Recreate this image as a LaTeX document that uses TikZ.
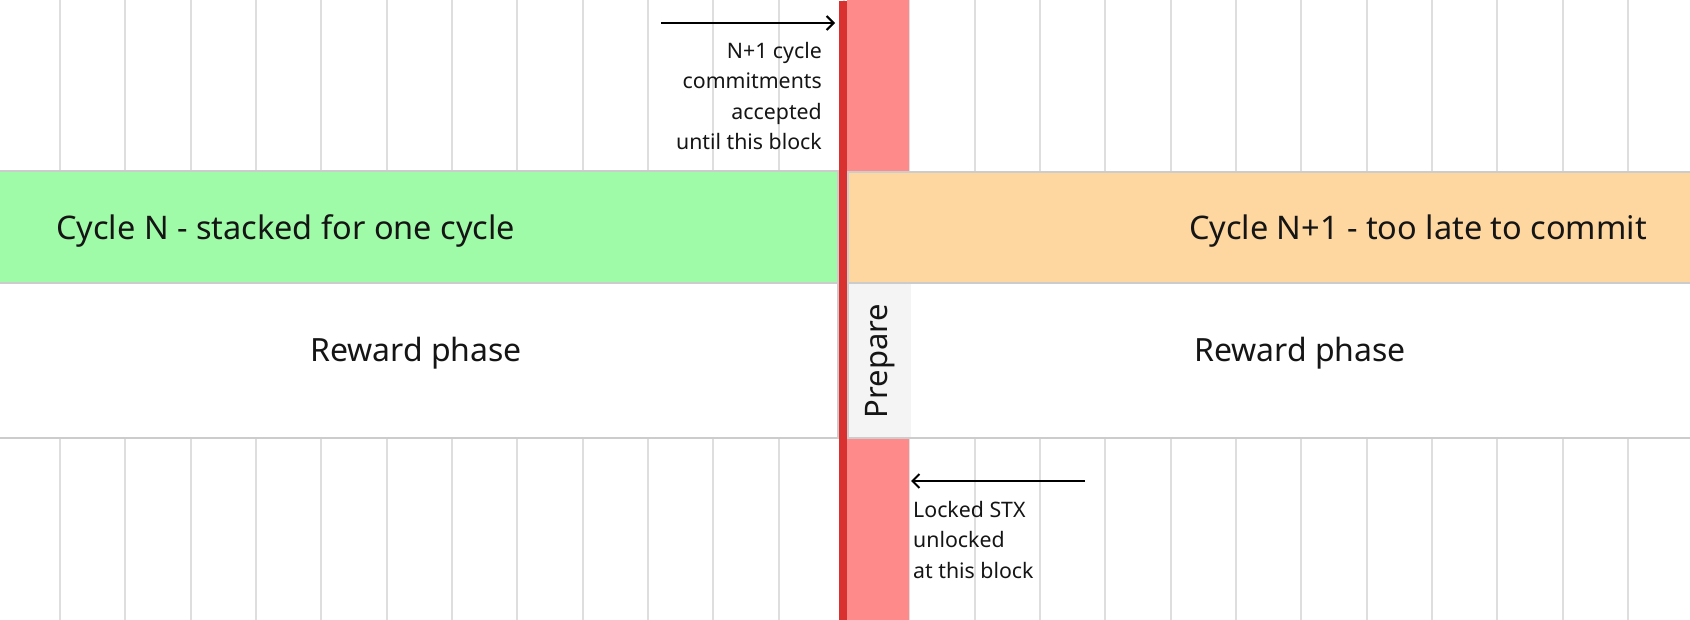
\documentclass[tikz,border=0pt]{standalone}
\usepackage{fontspec}
\setmainfont{Noto Sans}
\usetikzlibrary{arrows.meta}
\definecolor{gridc}{HTML}{DEDEDE}
\definecolor{bordc}{HTML}{CCCCCC}
\definecolor{greenc}{HTML}{A0FBA8}
\definecolor{orangec}{HTML}{FDD6A0}
\definecolor{pinkc}{HTML}{FF8A8A}
\definecolor{redc}{HTML}{D93030}
\definecolor{prepc}{HTML}{F4F4F4}
\definecolor{txtc}{HTML}{151515}
\tikzset{
  gridline/.style={draw=gridc, line width=2pt},
  band/.style={draw=bordc, line width=2pt, anchor=north west, inner sep=0pt, outer sep=0pt},
  bigtxt/.style={font=\fontsize{32.5}{38}\selectfont, text=txtc, inner sep=0pt},
  midtxt/.style={font=\fontsize{32}{38}\selectfont, text=txtc, inner sep=0pt},
  preptxt/.style={font=\fontsize{31}{36}\selectfont, text=txtc, inner sep=0pt},
  smalltxt/.style={font=\fontsize{21.3}{30.5}\selectfont, text=txtc, inner sep=0pt},
  annot/.style={draw=black, line width=2pt, -{Straight Barb[length=7pt,width=14pt,line width=2pt]}},
}
\begin{document}
\begin{tikzpicture}[x=1pt,y=-1pt]
\useasboundingbox (0,0) rectangle (1690,620);
\fill[white] (0,0) rectangle (1690,620);
% grid
\foreach \k in {0,...,24}
  \draw[gridline] ({60+65.33*\k},0) -- ({60+65.33*\k},620);
% pink column
\fill[pinkc] (847,0) rectangle (909,620);
% bands
\node[band, fill=greenc, minimum width=840, minimum height=112] (cycN) at (-2,171) {};
\node[band, fill=orangec, minimum width=844, minimum height=111] (cycN1) at (848,172) {};
\node[band, fill=white, minimum width=840, minimum height=155] (rewL) at (-2,283) {};
\node[band, fill=white, minimum width=844, minimum height=155] (rewR) at (848,283) {};
\fill[prepc] (849,284) rectangle (911,437);
% red bar
\fill[redc] (839,1) rectangle (847,620);
% texts
\node[bigtxt, anchor=west] (tN) at (56,231) {Cycle N - stacked for one cycle};
\node[bigtxt, anchor=east] (tN1) at (1647,231) {Cycle N+1 - too late to commit};
\node[midtxt] (rl) at (416,353) {Reward phase};
\node[midtxt] (rr) at (1300,353) {Reward phase};
\node[preptxt, rotate=90] (prep) at (880,361) {Prepare};
% top annotation
\coordinate (a1s) at (661,23);
\coordinate (a1e) at (835,23);
\draw[annot] (a1s) -- (a1e);
\node[smalltxt, anchor=north east, align=right] (ttop) at (822,42) {N+1 cycle\\commitments\\accepted\\until this block};
% bottom annotation
\coordinate (a2s) at (1085,481);
\coordinate (a2e) at (911,481);
\draw[annot] (a2s) -- (a2e);
\node[smalltxt, anchor=north west, align=left] (tbot) at (913,501) {Locked STX\\unlocked\\at this block};
\end{tikzpicture}
\end{document}
